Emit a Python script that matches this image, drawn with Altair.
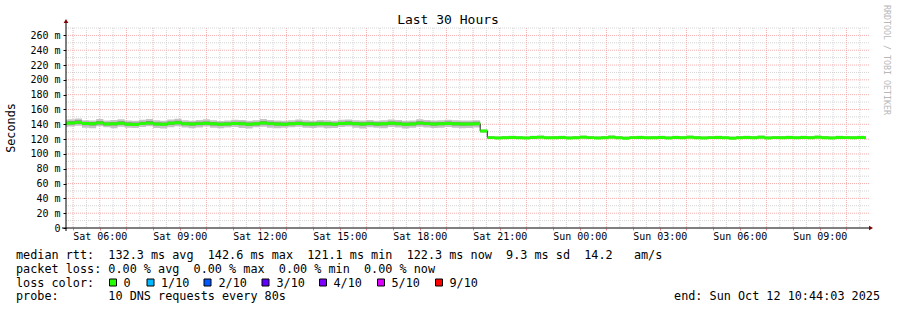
import altair as alt
import pandas as pd

# ---------------- data ----------------
START = pd.Timestamp("2025-10-11 04:32:00", tz="UTC")
STEP_MIN = 16
DOMAIN_START = pd.Timestamp("2025-10-11 04:44:03", tz="UTC")
DOMAIN_END = pd.Timestamp("2025-10-12 10:44:03", tz="UTC")

median_before = [
    141.2, 141.8, 142.6, 141.0, 140.6, 141.9, 140.3, 140.8, 141.5, 140.2,
    139.8, 140.9, 141.6, 140.4, 140.1, 141.3, 142.0, 140.7, 140.3, 140.9,
    141.4, 140.6, 140.0, 140.5, 141.1, 140.8, 140.2, 140.6, 141.7, 140.9,
    140.4, 140.1, 140.7, 141.2, 140.5, 140.3, 140.8, 140.6, 140.2, 141.0,
    141.5, 140.7, 140.4, 140.9, 140.3, 140.6, 141.3, 140.8, 140.2, 140.5,
    141.6, 140.9, 140.4, 140.7, 141.1, 140.6, 140.3, 140.5, 140.8,
]
median_drop = [131.0]
median_after = [
    122.0, 121.6, 121.9, 122.3, 121.8, 121.4, 122.1, 122.5, 121.7, 121.9,
    122.2, 121.5, 121.8, 122.4, 122.0, 121.6, 121.9, 122.6, 121.8, 121.3,
    122.0, 122.3, 121.7, 121.9, 122.1, 121.5, 122.2, 121.8, 122.5, 121.9,
    121.6, 122.0, 122.3, 121.7, 121.1, 121.9, 122.2, 121.8, 122.4, 121.6,
    122.0, 121.9, 122.3, 121.7, 122.1, 121.8, 122.5, 121.9, 121.6, 122.2,
    122.0, 121.8, 122.3, 121.9, 122.3, 122.3,
]

smoke_min_before = [
    136.5, 137.0, 138.1, 135.2, 134.8, 137.3, 135.9, 134.6, 136.8, 135.5,
    134.9, 136.2, 137.4, 135.0, 134.3, 136.1, 137.5, 135.8, 134.7, 135.6,
    136.9, 135.3, 134.5, 135.7, 136.4, 135.1, 134.2, 135.9, 136.7, 135.4,
    134.8, 135.2, 136.0, 136.6, 135.3, 134.9, 135.8, 134.6, 135.1, 136.3,
    136.9, 135.5, 134.4, 135.9, 135.2, 134.7, 136.5, 135.6, 134.3, 135.4,
    136.8, 135.7, 134.9, 135.5, 136.2, 135.3, 134.6, 135.1, 135.8,
]
smoke_min_drop = [128.5]
smoke_min_after = [
    120.6, 120.3, 120.5, 120.9, 120.4, 120.1, 120.7, 121.0, 120.2, 120.5,
    120.8, 120.1, 120.4, 120.9, 120.6, 120.2, 120.5, 121.1, 120.3, 119.9,
    120.6, 120.8, 120.3, 120.5, 120.7, 120.0, 120.8, 120.4, 121.0, 120.5,
    120.2, 120.6, 120.9, 120.3, 119.8, 120.5, 120.8, 120.4, 120.9, 120.2,
    120.6, 120.5, 120.8, 120.3, 120.7, 120.4, 121.0, 120.5, 120.2, 120.8,
    120.6, 120.4, 120.9, 120.5, 120.9, 120.9,
]

smoke_max_before = [
    146.0, 146.8, 147.9, 145.6, 145.2, 147.1, 145.0, 145.7, 146.9, 145.1,
    144.8, 146.0, 147.2, 145.3, 144.9, 146.5, 147.6, 145.4, 144.8, 145.9,
    146.7, 145.5, 144.6, 145.2, 146.3, 145.9, 144.9, 145.4, 147.0, 145.8,
    145.2, 144.7, 145.6, 146.4, 145.3, 144.9, 145.8, 145.5, 144.8, 146.0,
    146.6, 145.4, 145.0, 145.9, 144.9, 145.3, 146.5, 145.8, 144.7, 145.2,
    146.7, 145.9, 145.0, 145.6, 146.1, 145.4, 145.0, 145.2, 145.6,
]
smoke_max_drop = [133.0]
smoke_max_after = [
    124.1, 123.8, 124.3, 124.6, 124.0, 123.7, 124.4, 124.9, 123.9, 124.2,
    124.5, 123.8, 124.1, 124.8, 124.2, 123.9, 124.3, 125.2, 124.0, 123.6,
    124.3, 124.6, 124.0, 124.2, 124.5, 123.8, 124.6, 124.1, 124.9, 124.3,
    123.9, 124.2, 124.7, 124.0, 123.6, 124.3, 124.5, 124.1, 124.8, 123.9,
    124.3, 124.2, 124.6, 124.0, 124.4, 124.1, 124.9, 124.3, 123.9, 124.5,
    124.2, 124.0, 124.6, 124.3, 124.5, 124.5,
]

inner_lo_before = [
    139.0, 139.6, 140.4, 138.7, 138.3, 139.8, 138.4, 138.5, 139.5, 138.1,
    137.8, 138.9, 139.7, 138.3, 137.9, 139.2, 140.0, 138.6, 138.0, 138.7,
    139.3, 138.5, 137.9, 138.4, 139.0, 138.7, 137.8, 138.5, 139.6, 138.8,
    138.2, 138.0, 138.6, 139.1, 138.4, 138.2, 138.7, 138.3, 137.9, 138.9,
    139.4, 138.6, 138.0, 138.8, 138.2, 138.4, 139.2, 138.7, 137.9, 138.4,
    139.5, 138.8, 138.2, 138.6, 139.0, 138.5, 138.1, 138.4, 138.7,
]
inner_lo_drop = [129.8]
inner_lo_after = [
    121.2, 120.8, 121.1, 121.5, 121.0, 120.6, 121.3, 121.7, 120.9, 121.1,
    121.4, 120.7, 121.0, 121.6, 121.2, 120.8, 121.1, 121.8, 121.0, 120.5,
    121.2, 121.5, 120.9, 121.1, 121.3, 120.7, 121.4, 121.0, 121.7, 121.1,
    120.8, 121.2, 121.5, 120.9, 120.3, 121.1, 121.4, 121.0, 121.6, 120.8,
    121.2, 121.1, 121.5, 120.9, 121.3, 121.0, 121.7, 121.1, 120.8, 121.4,
    121.2, 121.0, 121.5, 121.1, 121.5, 121.5,
]
inner_hi_before = [
    143.6, 144.3, 145.3, 143.4, 143.0, 144.5, 142.7, 143.2, 144.1, 142.8,
    142.4, 143.5, 144.4, 142.9, 142.5, 143.9, 144.8, 143.1, 142.6, 143.3,
    143.9, 143.0, 142.3, 142.8, 143.6, 143.3, 142.5, 142.9, 144.3, 143.4,
    142.8, 142.4, 143.1, 143.8, 142.9, 142.6, 143.3, 143.0, 142.5, 143.5,
    144.0, 143.1, 142.6, 143.4, 142.6, 142.9, 143.9, 143.3, 142.4, 142.8,
    144.1, 143.4, 142.7, 143.1, 143.7, 143.0, 142.6, 142.9, 143.3,
]
inner_hi_drop = [132.0]
inner_hi_after = [
    123.3, 122.9, 123.2, 123.6, 123.1, 122.7, 123.4, 123.8, 123.0, 123.2,
    123.5, 122.8, 123.1, 123.7, 123.3, 122.9, 123.2, 123.9, 123.1, 122.6,
    123.3, 123.6, 123.0, 123.2, 123.4, 122.8, 123.5, 123.1, 123.8, 123.2,
    122.9, 123.3, 123.6, 123.0, 122.4, 123.2, 123.5, 123.1, 123.7, 122.9,
    123.3, 123.2, 123.6, 123.0, 123.4, 123.1, 123.8, 123.2, 122.9, 123.5,
    123.3, 123.1, 123.6, 123.2, 123.6, 123.6,
]

y_tick_values = [0, 20, 40, 60, 80, 100, 120, 140, 160, 180, 200, 220, 240, 260]

title_text = "Last 30 Hours"
y_title = "Seconds"
watermark = "RRDTOOL / TOBI OETIKER"
line_rtt = "median rtt:  132.3 ms avg  142.6 ms max  121.1 ms min  122.3 ms now  9.3 ms sd  14.2   am/s"
line_loss = "packet loss: 0.00 % avg  0.00 % max  0.00 % min  0.00 % now"
line_color_label = "loss color:"
loss_labels = ["0", "1/10", "2/10", "3/10", "4/10", "5/10", "9/10"]
loss_colors = ["#26ff00", "#00b8ff", "#0059ff", "#5e00ff", "#7e00ff", "#dd00ff", "#ff0000"]
line_probe = "probe:       10 DNS requests every 80s"
line_end = "end: Sun Oct 12 10:44:03 2025"

# ---------------- build tables ----------------
def ms(ts):
    return int(ts.value // 1_000_000)

def keep_spaces(s):
    return s.replace(" ", "\u00a0")

median = median_before + median_drop + median_after
smoke_min = smoke_min_before + smoke_min_drop + smoke_min_after
smoke_max = smoke_max_before + smoke_max_drop + smoke_max_after
inner_lo = inner_lo_before + inner_lo_drop + inner_lo_after
inner_hi = inner_hi_before + inner_hi_drop + inner_hi_after
n = len(median)
times = [ms(START + pd.Timedelta(minutes=STEP_MIN * k)) for k in range(n)]

df = pd.DataFrame({
    "t": times, "median": median, "smin": smoke_min, "smax": smoke_max,
    "ilo": inner_lo, "ihi": inner_hi,
})

d0, d1 = ms(DOMAIN_START), ms(DOMAIN_END)
hours = pd.date_range("2025-10-11 05:00", "2025-10-12 10:00", freq="1h", tz="UTC")
halfs = pd.date_range("2025-10-11 05:30", "2025-10-12 10:30", freq="1h", tz="UTC")
hour_ms = [ms(h) for h in hours]
half_ms = [ms(h) for h in halfs]
vmajor = pd.DataFrame({"t": hour_ms})
vminor = pd.DataFrame({"t": half_ms})
hmajor = pd.DataFrame({"v": list(range(20, 261, 20))})
hminor = pd.DataFrame({"v": list(range(10, 271, 20))})

W, H = 800, 200
FONT = "DejaVu Sans Mono"
GRID_GREY = "#d4d4d4"
GRID_RED = "#f4b0b0"
ARROW = "#800000"
LEG_SIZE = 11.8

xscale = alt.Scale(type="utc", domain=[d0, d1])
yscale = alt.Scale(domain=[0, 270], nice=False, zero=True)

x_axis = alt.Axis(
    values=hour_ms,
    labelExpr="utchours(datum.value) % 3 == 0 ? utcFormat(datum.value, '%a %H:%M') : ''",
    domain=False, grid=False, tickColor="#f08080", tickSize=2,
    labelFont=FONT, labelFontSize=10, labelColor="#000000",
    labelPadding=1, title=None, labelOverlap=False, labelFlush=False,
)
y_axis = alt.Axis(
    values=y_tick_values,
    labelExpr="datum.value == 0 ? '0' : datum.value + ' m'",
    domain=False, grid=False, tickColor="#000000", tickSize=3,
    labelFont=FONT, labelFontSize=10, labelColor="#000000",
    labelPadding=3, title=None, labelOverlap=False,
)

base = alt.Chart(df)
X = alt.X("t:T", scale=xscale, axis=x_axis)

def Y(field):
    return alt.Y(field, scale=yscale, axis=y_axis)

outer = base.mark_area(interpolate="step-after", color="#c4c4c4", clip=True).encode(
    x=X, y=Y("smin:Q"), y2="smax:Q")
inner = base.mark_area(interpolate="step-after", color="#8e8e8e", clip=True).encode(
    x=X, y=Y("ilo:Q"), y2="ihi:Q")
median_line = base.mark_line(interpolate="step-after", color="#202020", strokeWidth=1, clip=True).encode(
    x=X, y=Y("median:Q"))
green = base.transform_calculate(
    glo="datum.median - 2.0", ghi="datum.median + 2.0"
).mark_area(interpolate="step-after", color=loss_colors[0], clip=True).encode(
    x=X, y=Y("glo:Q"), y2="ghi:Q")

g_vminor = alt.Chart(vminor).mark_rule(color=GRID_GREY, strokeDash=[1, 1], strokeWidth=1).encode(x=X)
g_vmajor = alt.Chart(vmajor).mark_rule(color=GRID_RED, strokeDash=[1, 1], strokeWidth=1).encode(x=X)
g_hminor = alt.Chart(hminor).mark_rule(color=GRID_GREY, strokeDash=[1, 1], strokeWidth=1).encode(
    y=Y("v:Q"), x=alt.value(0), x2=alt.value(W + 3))
g_hmajor = alt.Chart(hmajor).mark_rule(color=GRID_RED, strokeDash=[1, 1], strokeWidth=1).encode(
    y=Y("v:Q"), x=alt.value(0), x2=alt.value(W + 3))

one = pd.DataFrame({"a": [0]})

def txt(s, x, y, size=LEG_SIZE, align="left", baseline="middle", color="#000000", angle=0):
    kw = dict(font=FONT, fontSize=size, align=align, baseline=baseline, color=color)
    if angle:
        kw["angle"] = angle
    return alt.Chart(one).mark_text(**kw).encode(
        x=alt.value(x), y=alt.value(y), text=alt.value(keep_spaces(s)))

left_axis = alt.Chart(one).mark_rule(color="#000000", strokeWidth=1).encode(
    x=alt.value(0), y=alt.value(-6), y2=alt.value(H + 3))
bottom_axis = alt.Chart(one).mark_rule(color="#000000", strokeWidth=1).encode(
    x=alt.value(-4), x2=alt.value(W + 5), y=alt.value(H))
arrow_up = alt.Chart(one).mark_point(shape="triangle-up", filled=True, size=22, color=ARROW, opacity=1).encode(
    x=alt.value(0), y=alt.value(-7))
arrow_right = alt.Chart(one).mark_point(shape="triangle-right", filled=True, size=22, color=ARROW, opacity=1).encode(
    x=alt.value(W + 5), y=alt.value(H))

LX = -50  # legend left edge relative to plot
texts = [
    txt(title_text, 382, -8, size=13, align="center"),
    txt(y_title, -55, 100, angle=270, align="center"),
    txt(watermark, 820, -23, size=8.3, color="#b8b8b8", angle=90),
    txt(line_rtt, LX, 227),
    txt(line_loss, LX, 240.5),
    txt(line_color_label, LX, 254.5),
    txt(line_probe, LX, 268),
    txt(line_end, 814, 268, align="right"),
]
box_x = [47, 84.5, 141.5, 199.5, 257, 315, 373]
label_x = [57.5, 95, 152.5, 210.5, 267.5, 325.5, 383.5]
boxes = []
for bx, lx, lab, col in zip(box_x, label_x, loss_labels, loss_colors):
    boxes.append(alt.Chart(one).mark_rect(fill=col, stroke="#000000", strokeWidth=1).encode(
        x=alt.value(bx - 3.5), x2=alt.value(bx + 3.5), y=alt.value(251), y2=alt.value(258)))
    boxes.append(txt(lab, lx, 254.5))

chart = alt.layer(
    g_vminor, g_hminor, g_vmajor, g_hmajor,
    outer, inner, median_line, green,
    left_axis, bottom_axis, arrow_up, arrow_right,
    *texts, *boxes,
).properties(
    width=W, height=H,
    autosize=alt.AutoSizeParams(type="none"),
    padding={"left": 66, "top": 28, "right": 31, "bottom": 82},
    background="#ffffff",
).configure_view(stroke=None)

chart.save("out.html", embed_options={"renderer": "svg", "actions": False})
